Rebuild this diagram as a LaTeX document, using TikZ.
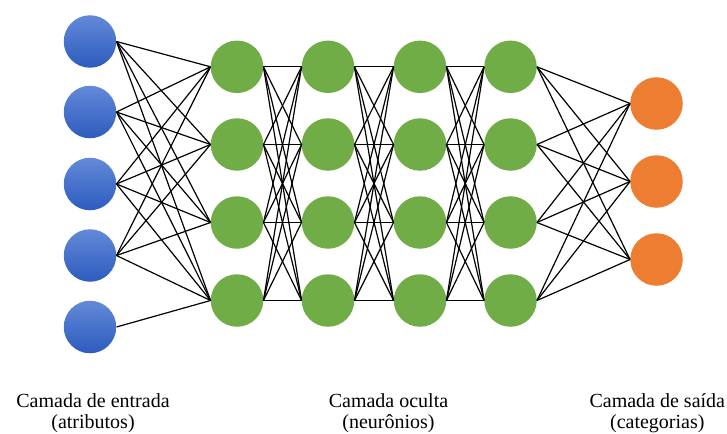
\documentclass[tikz,border=0pt]{standalone}
\usepackage{fontspec}
\setmainfont{Liberation Serif}
\begin{document}
\begin{tikzpicture}[x=1pt,y=-1pt,
  neuron/.style={circle,minimum size=52.5pt,inner sep=0pt,draw=none},
  inputn/.style={neuron,top color=inblueA,bottom color=inblueB},
  hiddenn/.style={neuron,fill=hidgreen},
  outputn/.style={neuron,fill=outorange},
  link/.style={draw=black,line width=1.2pt},
  caption/.style={align=center,anchor=base,inner sep=0pt,
    font=\fontsize{20}{20.5}\selectfont}]
\definecolor{inblueA}{HTML}{6389D8}
\definecolor{inblueB}{HTML}{2D5CBE}
\definecolor{hidgreen}{HTML}{70AD47}
\definecolor{outorange}{HTML}{ED7D31}
\useasboundingbox (0,0) rectangle (727,433);

% input layer
\foreach \i/\y in {1/41.5,2/112,3/184,4/255.5,5/327}
  \node[inputn] (i\i) at (90,\y) {};
% hidden layers
\foreach \l/\x in {1/237,2/328,3/420,4/510.5}
  \foreach \j/\y in {1/66.8,2/144.5,3/222.5,4/300.5}
    \node[hiddenn] (h\l\j) at (\x,\y) {};
% output layer
\foreach \k/\y in {1/103.5,2/181.5,3/259.5}
  \node[outputn] (o\k) at (656.5,\y) {};

% connections: input -> first hidden layer
\foreach \i in {1,...,4}
  \foreach \j in {1,...,4}
    \draw[link] (i\i.east) -- (h1\j.west);
\draw[link] (i5.east) -- (h14.west);
% connections between hidden layers
\foreach \l/\m in {1/2,2/3,3/4}
  \foreach \a in {1,...,4}
    \foreach \b in {1,...,4}
      \draw[link] (h\l\a.east) -- (h\m\b.west);
% connections: last hidden layer -> output
\foreach \a in {1,...,4}
  \foreach \k in {1,2,3}
    \draw[link] (h4\a.east) -- (o\k.west);

% captions (base anchor sits on the second line)
\node[caption] (c1) at (93,428.2) {Camada de entrada\\(atributos)};
\node[caption] (c2) at (388.5,428.2) {Camada oculta\\(neurônios)};
\node[caption] (c3) at (657.3,428.2) {Camada de saída\\(categorias)};
\end{tikzpicture}
\end{document}
